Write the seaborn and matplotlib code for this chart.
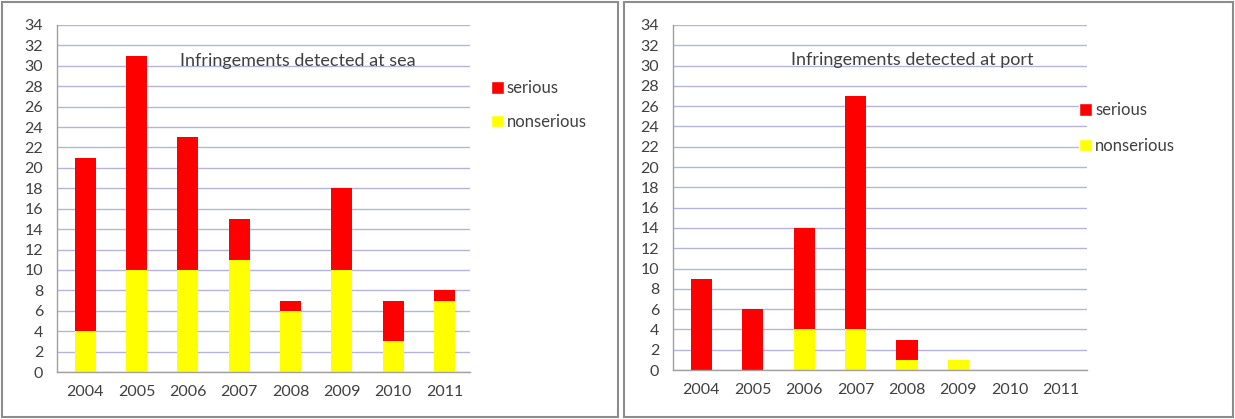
import matplotlib
matplotlib.use("Agg")
import matplotlib.pyplot as plt
import seaborn as sns
import pandas as pd
from matplotlib.patches import Rectangle, Patch

years = ["2004", "2005", "2006", "2007", "2008", "2009", "2010", "2011"]
sea_nonserious = [4, 10, 10, 11, 6, 10, 3, 7]
sea_serious = [17, 21, 13, 4, 1, 8, 4, 1]
port_nonserious = [0, 0, 4, 4, 1, 1, 0, 0]
port_serious = [9, 6, 10, 23, 2, 0, 0, 0]
yticks = list(range(0, 35, 2))

sns.set_theme(style="white")
plt.rcParams["font.family"] = ["Lato", "DejaVu Sans"]

RED = "#ff0000"
YEL = "#ffff00"
TXT = "#404040"
GRID = "#b4b4dc"

W, H = 1235, 419
fig = plt.figure(figsize=(W / 100, H / 100), dpi=100)
fig.patch.set_facecolor("white")

# panel borders
for (x0, x1) in [(2, 618), (624, 1233)]:
    fig.patches.append(Rectangle((x0 / W, 2 / H), (x1 - x0) / W, (H - 4) / H,
                                 transform=fig.transFigure, fill=False,
                                 edgecolor="#8c8c8c", lw=1.5))

def panel(rect, nons, ser, title, title_xy, leg_anchor, leg_spacing):
    l, r, b, t = rect
    ax = fig.add_axes([l / W, 1 - b / H, (r - l) / W, (b - t) / H])
    total = [a + c for a, c in zip(nons, ser)]
    df = pd.DataFrame({"year": years, "total": total, "nonserious": nons})
    sns.barplot(data=df, x="year", y="total", color=RED, saturation=1,
                width=0.41, ax=ax, linewidth=0)
    sns.barplot(data=df, x="year", y="nonserious", color=YEL, saturation=1,
                width=0.41, ax=ax, linewidth=0)
    ax.set_ylim(0, 34)
    ax.set_xlim(-0.55, 7.5)
    ax.set_yticks(yticks)
    ax.set_xlabel("")
    ax.set_ylabel("")
    ax.yaxis.grid(True, color=GRID, lw=1)
    ax.set_axisbelow(True)
    for s in ["top", "right"]:
        ax.spines[s].set_visible(False)
    for s in ["left", "bottom"]:
        ax.spines[s].set_color("#a0a0a0")
        ax.spines[s].set_linewidth(1)
    ax.tick_params(axis="both", colors=TXT, labelsize=11.5, length=0)
    ax.tick_params(axis="y", pad=10)
    ax.tick_params(axis="x", pad=9)
    ax.text(title_xy[0], title_xy[1], title, transform=ax.transAxes,
            fontsize=13, color=TXT, ha="center", va="center")
    handles = [Patch(facecolor=RED, label="serious"),
               Patch(facecolor=YEL, label="nonserious")]
    ax.legend(handles=handles, loc="upper left", bbox_to_anchor=leg_anchor,
              frameon=False, fontsize=12, labelcolor=TXT,
              handlelength=0.75, handleheight=0.75, handletextpad=0.2,
              labelspacing=leg_spacing, borderaxespad=0)
    return ax

panel((57, 470, 372, 25), sea_nonserious, sea_serious,
      "Infringements detected at sea", (0.583, 0.895), (1.035, 0.86), 1.05)
panel((673, 1087, 370, 25), port_nonserious, port_serious,
      "Infringements detected at port", (0.577, 0.9), (0.965, 0.795), 1.15)

fig.savefig("out.png", dpi=100, facecolor="white")
